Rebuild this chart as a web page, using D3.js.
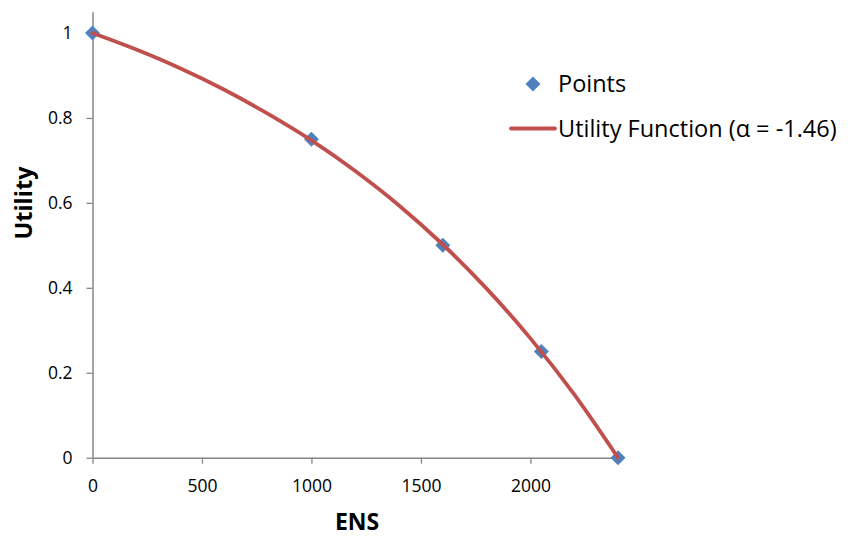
<!DOCTYPE html>
<html lang="en">
<head>
<meta charset="utf-8">
<script src="https://cdn.jsdelivr.net/npm/d3@7"></script>
<style>
  html, body { margin: 0; padding: 0; background: #fff; }
  svg { display: block; font-family: "Open Sans", sans-serif; }
</style>
</head>
<body>
<div id="chart"></div>
<script>
// measured points (ENS, utility)
const pointEns = [0, 1000, 1600, 2050, 2400];
const pointUtility = [1, 0.75, 0.5, 0.25, 0];

// utility curve
const curveEns = [0, 200, 400, 600, 800, 1000, 1200, 1400, 1600, 1800, 2000, 2200, 2400];
const curveUtility = [1, 0.961, 0.917, 0.867, 0.810, 0.747, 0.675, 0.594, 0.502, 0.398, 0.281, 0.149, 0];

const xTicks = [0, 500, 1000, 1500, 2000];
const yTicks = [0, 0.2, 0.4, 0.6, 0.8, 1];

const seriesNames = ["Points", "Utility Function (\u03b1 = -1.46)"];

const width = 855, height = 536;
const blue = "#4F81BD", red = "#C0504D", axisGrey = "#868686";

const svg = d3.select("#chart")
  .append("svg")
  .attr("width", width)
  .attr("height", height);

svg.append("rect")
  .attr("width", width)
  .attr("height", height)
  .attr("fill", "#fff");

const x = d3.scaleLinear().domain([0, 2400]).range([92.5, 618]);
const y = d3.scaleLinear().domain([0, 1.05]).range([457.7, 457.7 - 1.05 * 424.7]);

// axes
const xAxis = svg.append("g")
  .attr("transform", `translate(0,${y(0)})`)
  .call(d3.axisBottom(x).tickValues(xTicks).tickSize(6).tickSizeOuter(0).tickPadding(16)
    .tickFormat(d3.format("d")));

const yAxis = svg.append("g")
  .attr("transform", `translate(${x(0)},0)`)
  .call(d3.axisLeft(y).tickValues(yTicks).tickSize(6).tickSizeOuter(0).tickPadding(14)
    .tickFormat(d => d === 0 || d === 1 ? d3.format("d")(d) : d3.format(".1f")(d)));

[xAxis, yAxis].forEach(g => {
  g.attr("font-size", 17.5).attr("font-family", "'Open Sans', sans-serif");
  g.select(".domain").attr("stroke", axisGrey).attr("stroke-width", 1.5);
  g.selectAll(".tick line").attr("stroke", axisGrey).attr("stroke-width", 1.3);
  g.selectAll(".tick text").attr("fill", "#000");
});

// axis titles
svg.append("text")
  .attr("x", 357)
  .attr("y", 530)
  .attr("text-anchor", "middle")
  .style("font-size", "23px")
  .style("font-weight", "bold")
  .text("ENS");

svg.append("text")
  .attr("transform", "translate(32,203) rotate(-90)")
  .attr("text-anchor", "middle")
  .style("font-size", "23.5px")
  .style("font-weight", "bold")
  .text("Utility");

// points (drawn under the curve)
const diamond = d3.symbol().type(d3.symbolSquare).size(112);
const pts = pointEns.map((e, i) => ({ens: e, u: pointUtility[i]}));

svg.append("g")
  .selectAll("path")
  .data(pts)
  .enter()
  .append("path")
  .attr("d", diamond)
  .attr("fill", blue)
  .attr("transform", d => `translate(${x(d.ens)},${y(d.u)}) rotate(45)`);

// utility curve
const curvePts = curveEns.map((e, i) => ({ens: e, u: curveUtility[i]}));
const line = d3.line()
  .x(d => x(d.ens))
  .y(d => y(d.u))
  .curve(d3.curveMonotoneX);

svg.append("path")
  .datum(curvePts)
  .attr("d", line)
  .attr("fill", "none")
  .attr("stroke", red)
  .attr("stroke-width", 3.8)
  .attr("stroke-linecap", "round");

// legend
const legend = svg.append("g");

legend.append("path")
  .attr("d", diamond)
  .attr("fill", blue)
  .attr("transform", "translate(533,84) rotate(45)");

legend.append("text")
  .attr("x", 558)
  .attr("y", 92)
  .style("font-size", "23.5px")
  .attr("fill", "#000")
  .text(seriesNames[0]);

legend.append("line")
  .attr("x1", 511).attr("x2", 555)
  .attr("y1", 128.5).attr("y2", 128.5)
  .attr("stroke", red)
  .attr("stroke-width", 3.8)
  .attr("stroke-linecap", "round");

legend.append("text")
  .attr("x", 558)
  .attr("y", 137)
  .style("font-size", "23.5px")
  .attr("fill", "#000")
  .text(seriesNames[1]);
</script>
</body>
</html>
